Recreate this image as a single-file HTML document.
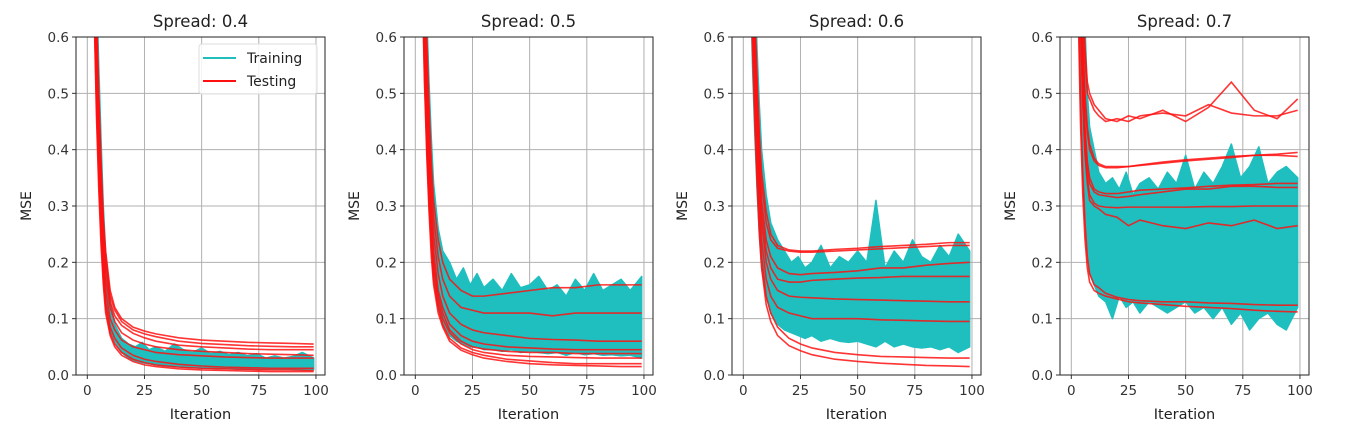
<!DOCTYPE html>
<html><head><meta charset="utf-8"><style>
body{margin:0;background:#fff;}
svg{display:block;font-family:"DejaVu Sans","Liberation Sans",sans-serif;}
</style></head><body>
<svg id="chart" width="1358" height="444" viewBox="0 0 1358 444"></svg>
<script>
const xs=[0,2,3,4,5,6,7,8,10,12,15,20,25,30,40,50,60,70,80,90,99];
const bx=[0,2,3,4,5,6,7,8,10,12,15,18,21,24,27,30,34,38,42,46,50,54,58,62,66,70,74,78,82,86,90,94,99];
const titles=["Spread: 0.4","Spread: 0.5","Spread: 0.6","Spread: 0.7"];
const yTicks=[0,0.1,0.2,0.3,0.4,0.5,0.6];
const yTickLabels=["0.0","0.1","0.2","0.3","0.4","0.5","0.6"];
const xTicks=[0,25,50,75,100];
const xTickLabels=["0","25","50","75","100"];

const test1=[
[1.6,1.1,0.85,0.65,0.5,0.38,0.28,0.22,0.15,0.12,0.1,0.085,0.078,0.073,0.066,0.062,0.06,0.058,0.057,0.056,0.055],
[1.6,1.1,0.85,0.64,0.49,0.37,0.27,0.21,0.14,0.115,0.095,0.08,0.073,0.068,0.06,0.056,0.054,0.052,0.051,0.05,0.05],
[1.5,1.0,0.8,0.6,0.46,0.34,0.25,0.19,0.13,0.105,0.088,0.074,0.066,0.06,0.053,0.05,0.048,0.046,0.045,0.045,0.045],
[1.5,1.0,0.78,0.58,0.44,0.32,0.23,0.17,0.12,0.095,0.075,0.062,0.055,0.05,0.045,0.042,0.04,0.038,0.037,0.036,0.035],
[1.4,0.95,0.74,0.55,0.41,0.3,0.21,0.15,0.1,0.08,0.062,0.05,0.045,0.04,0.036,0.034,0.032,0.031,0.03,0.03,0.03],
[1.4,0.9,0.7,0.52,0.38,0.27,0.19,0.13,0.085,0.065,0.048,0.035,0.028,0.024,0.019,0.016,0.014,0.013,0.012,0.012,0.012],
[1.3,0.85,0.66,0.48,0.35,0.25,0.17,0.12,0.075,0.055,0.04,0.028,0.022,0.018,0.014,0.012,0.011,0.01,0.009,0.009,0.008],
[1.3,0.85,0.64,0.46,0.33,0.23,0.16,0.11,0.07,0.05,0.035,0.024,0.018,0.015,0.011,0.009,0.008,0.007,0.006,0.006,0.006]];
const trainLo1=[1.3,0.85,0.65,0.48,0.36,0.26,0.18,0.13,0.08,0.06,0.04,0.03,0.025,0.022,0.02,0.018,0.016,0.015,0.014,0.013,0.012,0.012,0.011,0.011,0.01,0.01,0.01,0.01,0.01,0.01,0.009,0.009,0.009];
const trainHi1=[1.7,1.2,0.9,0.7,0.55,0.42,0.3,0.22,0.13,0.09,0.065,0.055,0.05,0.058,0.045,0.05,0.042,0.055,0.045,0.04,0.048,0.038,0.042,0.036,0.04,0.034,0.038,0.03,0.034,0.03,0.033,0.04,0.03];

const test2=[
[1.6,1.2,0.95,0.75,0.6,0.48,0.38,0.31,0.24,0.2,0.17,0.15,0.14,0.14,0.145,0.15,0.155,0.155,0.16,0.16,0.16],
[1.6,1.15,0.9,0.72,0.57,0.45,0.35,0.28,0.21,0.17,0.14,0.12,0.115,0.11,0.11,0.11,0.105,0.11,0.11,0.11,0.11],
[1.5,1.1,0.85,0.68,0.53,0.41,0.32,0.25,0.18,0.14,0.11,0.09,0.08,0.075,0.07,0.065,0.063,0.062,0.06,0.06,0.06],
[1.5,1.05,0.8,0.64,0.5,0.38,0.29,0.22,0.15,0.12,0.09,0.07,0.06,0.055,0.05,0.048,0.046,0.045,0.045,0.045,0.045],
[1.45,1.0,0.78,0.6,0.46,0.35,0.27,0.2,0.14,0.11,0.08,0.06,0.05,0.046,0.042,0.04,0.04,0.038,0.038,0.038,0.038],
[1.4,0.95,0.74,0.57,0.43,0.33,0.25,0.19,0.13,0.1,0.075,0.055,0.045,0.04,0.035,0.033,0.032,0.031,0.03,0.03,0.03],
[1.4,0.95,0.72,0.55,0.41,0.31,0.23,0.17,0.12,0.09,0.065,0.048,0.04,0.035,0.028,0.025,0.022,0.02,0.02,0.02,0.02],
[1.35,0.9,0.7,0.52,0.39,0.29,0.21,0.16,0.11,0.085,0.06,0.044,0.036,0.03,0.024,0.02,0.018,0.017,0.016,0.015,0.015]];
const trainLo2=[1.3,0.9,0.7,0.53,0.4,0.3,0.23,0.17,0.12,0.09,0.07,0.06,0.055,0.05,0.05,0.045,0.045,0.042,0.045,0.04,0.042,0.04,0.038,0.04,0.035,0.04,0.036,0.038,0.035,0.036,0.034,0.035,0.03];
const trainHi2=[1.7,1.25,1.0,0.8,0.64,0.52,0.42,0.34,0.26,0.22,0.2,0.17,0.19,0.16,0.18,0.155,0.17,0.15,0.18,0.155,0.16,0.175,0.15,0.16,0.14,0.17,0.15,0.18,0.15,0.16,0.17,0.15,0.175];

const test3=[
[1.6,1.2,0.98,0.8,0.65,0.53,0.43,0.36,0.29,0.25,0.23,0.222,0.22,0.22,0.223,0.225,0.228,0.23,0.232,0.235,0.235],
[1.6,1.18,0.95,0.78,0.63,0.51,0.41,0.34,0.27,0.24,0.225,0.22,0.218,0.218,0.22,0.222,0.224,0.226,0.228,0.23,0.23],
[1.55,1.15,0.9,0.74,0.6,0.48,0.38,0.31,0.24,0.21,0.19,0.18,0.178,0.18,0.182,0.185,0.19,0.19,0.195,0.198,0.2],
[1.55,1.12,0.88,0.72,0.58,0.46,0.36,0.29,0.22,0.19,0.17,0.165,0.165,0.168,0.17,0.172,0.173,0.175,0.175,0.175,0.175],
[1.5,1.1,0.86,0.7,0.56,0.44,0.34,0.27,0.2,0.17,0.15,0.14,0.138,0.137,0.135,0.134,0.133,0.132,0.131,0.13,0.13],
[1.5,1.05,0.83,0.66,0.52,0.4,0.31,0.24,0.17,0.14,0.12,0.11,0.105,0.1,0.1,0.1,0.098,0.097,0.096,0.095,0.095],
[1.45,1.0,0.8,0.62,0.48,0.37,0.28,0.21,0.14,0.11,0.085,0.065,0.055,0.048,0.04,0.036,0.033,0.032,0.031,0.03,0.03],
[1.4,0.95,0.76,0.58,0.45,0.34,0.25,0.19,0.125,0.095,0.07,0.052,0.043,0.036,0.028,0.024,0.021,0.019,0.017,0.016,0.015]];
const trainLo3=[1.3,0.9,0.72,0.55,0.43,0.33,0.25,0.19,0.14,0.11,0.09,0.08,0.075,0.07,0.065,0.07,0.06,0.065,0.06,0.058,0.06,0.055,0.05,0.06,0.05,0.055,0.05,0.048,0.05,0.045,0.05,0.04,0.05];
const trainHi3=[1.7,1.3,1.05,0.86,0.7,0.58,0.48,0.4,0.32,0.27,0.24,0.22,0.2,0.21,0.19,0.2,0.23,0.19,0.21,0.2,0.22,0.2,0.31,0.19,0.22,0.2,0.24,0.21,0.2,0.23,0.21,0.25,0.22];

const test4=[
[1.6,1.25,1.0,0.82,0.68,0.58,0.52,0.5,0.48,0.47,0.455,0.45,0.46,0.455,0.47,0.45,0.475,0.52,0.47,0.455,0.49],
[1.6,1.22,0.98,0.8,0.66,0.56,0.5,0.49,0.47,0.46,0.45,0.455,0.45,0.46,0.465,0.46,0.48,0.465,0.46,0.46,0.47],
[1.55,1.18,0.94,0.76,0.6,0.5,0.44,0.41,0.385,0.375,0.37,0.37,0.37,0.372,0.376,0.38,0.383,0.386,0.39,0.392,0.395],
[1.55,1.15,0.92,0.74,0.58,0.48,0.43,0.4,0.38,0.372,0.368,0.368,0.37,0.373,0.378,0.382,0.385,0.388,0.39,0.39,0.388],
[1.5,1.12,0.88,0.7,0.54,0.44,0.38,0.35,0.33,0.325,0.322,0.322,0.325,0.328,0.33,0.332,0.335,0.337,0.338,0.34,0.34],
[1.5,1.1,0.86,0.68,0.52,0.42,0.37,0.34,0.325,0.32,0.318,0.315,0.317,0.32,0.325,0.33,0.33,0.335,0.335,0.333,0.333],
[1.45,1.05,0.82,0.64,0.5,0.4,0.35,0.32,0.305,0.3,0.298,0.297,0.298,0.298,0.298,0.298,0.299,0.299,0.3,0.3,0.3],
[1.45,1.02,0.8,0.62,0.48,0.39,0.34,0.31,0.3,0.295,0.285,0.28,0.265,0.275,0.265,0.26,0.27,0.265,0.275,0.26,0.265],
[1.35,0.9,0.7,0.5,0.36,0.27,0.21,0.18,0.16,0.155,0.145,0.138,0.134,0.132,0.13,0.13,0.128,0.127,0.125,0.124,0.124],
[1.3,0.85,0.65,0.45,0.32,0.24,0.19,0.165,0.15,0.145,0.14,0.135,0.13,0.128,0.125,0.122,0.12,0.118,0.115,0.113,0.112]];
const trainLo4=[1.3,0.9,0.7,0.5,0.36,0.28,0.22,0.18,0.16,0.14,0.13,0.1,0.14,0.12,0.13,0.11,0.13,0.12,0.11,0.12,0.13,0.11,0.12,0.1,0.12,0.09,0.11,0.08,0.1,0.11,0.09,0.08,0.12];
const trainHi4=[1.8,1.4,1.15,0.95,0.8,0.62,0.5,0.44,0.4,0.36,0.34,0.35,0.33,0.36,0.32,0.34,0.35,0.33,0.36,0.34,0.39,0.33,0.36,0.34,0.37,0.41,0.35,0.37,0.405,0.34,0.36,0.37,0.35];

const panels=[
 {test:test1,lo:trainLo1,hi:trainHi1},
 {test:test2,lo:trainLo2,hi:trainHi2},
 {test:test3,lo:trainLo3,hi:trainHi3},
 {test:test4,lo:trainLo4,hi:trainHi4}];

const NS="http://www.w3.org/2000/svg";
const svg=document.getElementById('chart');
function el(tag,attrs,parent){const e=document.createElementNS(NS,tag);for(const k in attrs)e.setAttribute(k,attrs[k]);(parent||svg).appendChild(e);return e;}
const PW=249,TOP=37,BOT=375,XMIN=-4.95,XMAX=103.95,YMIN=0,YMAX=0.6;
const lefts=[76,404,732,1060];

panels.forEach((p,i)=>{
 const L=lefts[i];
 const X=v=>L+(v-XMIN)/(XMAX-XMIN)*PW;
 const Y=v=>BOT-(v-YMIN)/(YMAX-YMIN)*(BOT-TOP);
 const g=el('g',{});
 
 
 const cp=el('clipPath',{id:'clip'+i},g);
 el('rect',{x:L,y:TOP,width:PW,height:BOT-TOP},cp);
 yTicks.forEach((t,j)=>{
  const gl=el('line',{x1:L,x2:L+PW,y1:Y(t),y2:Y(t),stroke:'#b0b0b0','stroke-width':1},g);
  
  
  el('line',{x1:L-4,x2:L,y1:Y(t),y2:Y(t),stroke:'#333'},g);
  const tl=el('text',{x:L-7,y:Y(t)+5,'text-anchor':'end','font-size':13.5,fill:'#333'},g);
  tl.textContent=yTickLabels[j];
  
  
 });
 xTicks.forEach((t,j)=>{
  const gl=el('line',{x1:X(t),x2:X(t),y1:TOP,y2:BOT,stroke:'#b0b0b0','stroke-width':1},g);
  
  
  el('line',{x1:X(t),x2:X(t),y1:BOT,y2:BOT+4,stroke:'#333'},g);
  const tl=el('text',{x:X(t),y:BOT+20,'text-anchor':'middle','font-size':13.5,fill:'#333'},g);
  tl.textContent=xTickLabels[j];
  
  
 });
 const dg=el('g',{'clip-path':'url(#clip'+i+')'},g);
 let d='M'+bx.map((x,k)=>X(x)+','+Y(p.hi[k])).join('L');
 for(let k=bx.length-1;k>=0;k--) d+='L'+X(bx[k])+','+Y(p.lo[k]);
 const band=el('path',{d:d+'Z',fill:'#1fbfbf',stroke:'#1fbfbf','stroke-width':1.5,'stroke-linejoin':'round'},dg);
 
 
 p.test.forEach(s=>{
  const ln=el('polyline',{points:xs.map((x,k)=>X(x)+','+Y(s[k])).join(' '),fill:'none',stroke:'#ff1010','stroke-opacity':0.85,'stroke-width':1.6},dg);
  
  
 });
 el('rect',{x:L,y:TOP,width:PW,height:BOT-TOP,fill:'none',stroke:'#222','stroke-width':1},g);
 const tt=el('text',{x:L+PW/2,y:27,'text-anchor':'middle','font-size':16.5,fill:'#222'},g);
 tt.textContent=titles[i];
 
 
 const xl=el('text',{x:L+PW/2,y:419,'text-anchor':'middle','font-size':14.5,fill:'#222'},g);
 xl.textContent='Iteration';
 
 
 const yl=el('text',{x:0,y:0,'text-anchor':'middle','font-size':14,fill:'#222',transform:'translate('+(L-45)+','+((TOP+BOT)/2)+') rotate(-90)'},g);
 yl.textContent='MSE';
 
 
});

const lg=el('g',{});


el('rect',{x:199,y:44,width:118,height:50,rx:3,fill:'#fff','fill-opacity':0.85,stroke:'#ddd'},lg);
el('line',{x1:203,x2:236,y1:58,y2:58,stroke:'#1fbfbf','stroke-width':2},lg);
el('line',{x1:203,x2:236,y1:81,y2:81,stroke:'#ff1010','stroke-width':2},lg);
const t1=el('text',{x:247,y:63,'font-size':14,fill:'#222'},lg);t1.textContent='Training';


const t2=el('text',{x:247,y:86,'font-size':14,fill:'#222'},lg);t2.textContent='Testing';


</script>
</body></html>
